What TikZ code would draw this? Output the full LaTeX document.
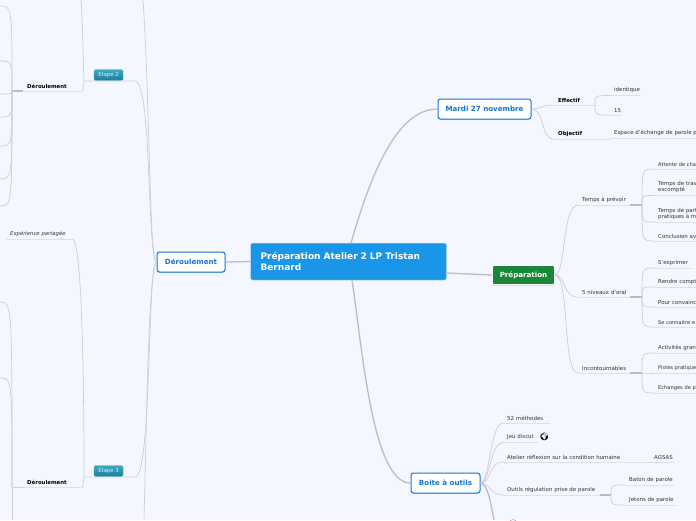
\documentclass[tikz,border=0pt]{standalone}
\usepackage{fontspec}
\setmainfont{DejaVu Sans}
\newfontfamily\emojifont{Noto Emoji}
\usetikzlibrary{arrows.meta,positioning,calc,shadows}
\definecolor{pagebg}{RGB}{244,247,255}
\definecolor{mainblue}{RGB}{26,150,232}
\definecolor{linkblue}{RGB}{20,115,215}
\definecolor{prepgreen}{RGB}{26,135,55}
\definecolor{etapetop}{RGB}{62,170,195}
\definecolor{etapebot}{RGB}{24,125,155}
\definecolor{branchgray}{RGB}{205,206,210}
\definecolor{mainlink}{RGB}{190,190,194}
\definecolor{stubgray}{RGB}{186,188,192}
\definecolor{leafline}{RGB}{222,225,234}
\definecolor{leaftext}{RGB}{50,50,50}
\tikzset{
  mainnode/.style={rectangle,rounded corners=1.5pt,fill=mainblue,draw=white!70!mainblue,line width=0.5pt,text=white,
    font=\fontsize{9}{11}\selectfont\bfseries,align=left,text width=176pt,inner xsep=10pt,inner ysep=0pt,minimum width=195pt,minimum height=37pt},
  topicnode/.style={rectangle,rounded corners=2.5pt,fill=white,draw=linkblue,line width=1pt,text=linkblue,
    font=\fontsize{7.1}{8}\selectfont\bfseries,inner sep=0pt,minimum height=20pt,
    drop shadow={shadow xshift=0pt,shadow yshift=-0.8pt,opacity=0.3,fill=linkblue}},
  prepnode/.style={rectangle,rounded corners=1.5pt,fill=prepgreen,draw=white,line width=0.6pt,text=white,
    font=\fontsize{7.1}{8}\selectfont\bfseries,inner sep=0pt,minimum width=62pt,minimum height=19pt,
    drop shadow={shadow xshift=0pt,shadow yshift=-1pt,opacity=0.35,fill=gray}},
  etapenode/.style={rectangle,rounded corners=1.5pt,top color=etapetop,bottom color=etapebot,draw=etapetop,line width=0.3pt,
    text=white!85!etapetop,font=\fontsize{5.3}{6}\selectfont,inner sep=0pt,minimum width=29pt,minimum height=11pt},
  leafnode/.style={anchor=south west,inner xsep=4pt,inner ysep=2.6pt,text width=#1pt-8pt,align=left,text=leaftext,
    font=\fontsize{5.45}{6}\selectfont},
  edgeleaf/.style={leafnode=#1,font=\fontsize{5.1}{6}\selectfont},
  boldleaf/.style={leafnode=#1,text=black,font=\fontsize{5.4}{6}\selectfont\bfseries},
  menunode/.style={text=white,font=\fontsize{6.5}{7}\selectfont,inner sep=0pt},
  branch/.style={draw=branchgray,line width=0.7pt},
  thickbranch/.style={draw=mainlink,line width=1.3pt},
  leafrule/.style={draw=leafline,line width=0.9pt},
  stub/.style={draw=stubgray,line width=1.1pt}
}
\begin{document}
\begin{tikzpicture}[x=1pt,y=-1pt]
  \useasboundingbox[fill=pagebg] (0,0) rectangle (696,520);

  % free ends at the edges of the sheet
  \coordinate (topA) at (143,0);
  \coordinate (topB) at (81,0);
  \coordinate (botA) at (144,520);
  \coordinate (botB) at (12,520);
  \coordinate (botC) at (494,520);
  \coordinate (hubUp) at (12,91);
  \coordinate (hubLow) at (12,487);
  \coordinate (hubTemps) at (642,205);
  \coordinate (hubNiv) at (642,297);
  \coordinate (hubInc) at (642,373);
  \coordinate (hubOutils) at (611,495);
  \coordinate (hubEff) at (595,105);
  \foreach \y [count=\i] in {6,61,94,117,146,179,206} \coordinate (edgeU\i) at (0,\y);
  \foreach \y [count=\i] in {302,378} \coordinate (edgeL\i) at (0,\y);

  \node[mainnode] (central) at (348.5,261.5) {Préparation Atelier 2 LP Tristan Bernard};
  \node[topicnode,minimum width=68pt] (deroul) at (191,262) {Déroulement};
  \node[topicnode,minimum width=93pt] (mardi) at (484.5,109) {Mardi 27 novembre};
  \node[prepnode] (prep) at (523.5,275) {Préparation};
  \node[topicnode,minimum width=69pt] (boite) at (445.5,483) {Boite à outils};

  \node[etapenode] (etapeB) at (108.5,75) {Etape 2};
  \node[etapenode] (etapeC) at (108.5,471) {Etape 3};
  \node[menunode,right=1pt of etapeB] (menuB) {≡};
  \node[menunode,right=1pt of etapeC] (menuC) {≡};

  % left side
  \node[boldleaf=60] (deroulB) at (23,91) {Déroulement};
  \node[boldleaf=60] (deroulC) at (23,487) {Déroulement};
  \node[leafnode=66,font=\fontsize{5.3}{6}\selectfont\itshape] (partage) at (6,239) {Expérience partagée};

  % right side, Mardi
  \node[boldleaf=41] (effectif) at (554,105) {Effectif};
  \node[leafnode=31] (identique) at (610,95.5) {identique};
  \node[leafnode=12] (quinze) at (610,115) {15};
  \node[boldleaf=56] (objectif) at (554,139) {Objectif};
  \node[leafnode=120] (espace) at (610,138.5) {Espace d'échange de parole p};

  % right side, Preparation
  \node[leafnode=52] (temps) at (578,205) {\mbox{Temps à prévoir}};
  \node[leafnode=52] (niveaux) at (578,297) {\mbox{5 niveaux d'oral}};
  \node[leafnode=52] (incont) at (578,373) {\mbox{Incontournables}};
  \node[edgeleaf=60] (attente) at (654,169) {Attente de cha};
  \node[leafnode=60] (travail) at (654,195.5) {Temps de trav\\escompté};
  \node[leafnode=60] (partie) at (654,222) {Temps de part\\pratiques à m};
  \node[leafnode=60] (conclu) at (654,241) {Conclusion av};
  \node[leafnode=38] (exprimer) at (654,268) {S'exprimer};
  \node[leafnode=60] (rendre) at (654,287) {Rendre compt};
  \node[leafnode=60] (convain) at (654,307) {Pour convainc};
  \node[edgeleaf=60] (connaitre) at (654,327) {Se connaitre e};
  \node[leafnode=60] (activ) at (654,353) {Activités gran};
  \node[edgeleaf=60] (pistes) at (654,373) {Pistes pratique};
  \node[edgeleaf=60] (echange) at (654,393) {Echanges de p};

  % right side, Boite
  \node[leafnode=47] (methodes) at (503,423) {\mbox{52 méthodes}};
  \node[leafnode=36] (jeu) at (503,442.5) {\mbox{Jeu discut}};
  \node[inner sep=0pt,font=\emojifont\fontsize{7.5}{8}\selectfont,right=0pt of jeu.east,yshift=0.5pt] (globe) {\char"1F30D};
  \node[leafnode=147] (atelier) at (503,462) {\mbox{Atelier réflexion sur la condition humaine}};
  \node[leafnode=25] (agsas) at (650,462) {\mbox{AGSAS}};
  \node[leafnode=97] (outils) at (503,495) {\mbox{Outils régulation prise de parole}};
  \node[leafnode=50] (baton) at (625,485) {\mbox{Baton de parole}};
  \node[leafnode=52] (jetons) at (625,505) {\mbox{Jetons de parole}};
  \node[circle,draw=gray!40!pink,line width=0.6pt,inner sep=0pt,minimum size=8pt] (rond) at (513,523.5) {};

  % rules under the leaves
  \foreach \n in {deroulB,deroulC,partage,effectif,identique,quinze,objectif,espace,temps,niveaux,incont,attente,travail,partie,conclu,exprimer,rendre,convain,connaitre,activ,pistes,echange,methodes,jeu,atelier,agsas,outils,baton,jetons}
    \draw[leafrule] (\n.south west) -- (\n.south east);

  % main links
  \draw[thickbranch] (central.west) -- (deroul.east);
  \draw[thickbranch] (central.east |- 0,273) -- (prep.west);
  \draw[thickbranch] (351,243) .. controls (372,170) and (398,109) .. (mardi.west);
  \draw[thickbranch] (352,280) .. controls (362,345) and (372,483) .. (boite.west);

  % Deroulement to steps
  \draw[branch] (deroul.west) .. controls (147,258) and (152,81) .. (135,81) -- (84,81);
  \draw[branch] (deroul.west) .. controls (149,258) and (150,100) .. (topA);
  \draw[branch] (deroul.west) .. controls (147,266) and (152,477) .. (135,477) -- (84,477);
  \draw[branch] (deroul.west) .. controls (149,266) and (147,400) .. (botA);

  % steps to their children
  \draw[branch] (84,81) .. controls (83,90) and (82,91) .. (deroulB.south east);
  \draw[branch] (84,81) .. controls (83,60) and (83,30) .. (topB);
  \draw[branch] (84,477) .. controls (83,486) and (82,487) .. (deroulC.south east);
  \draw[branch] (84,477) .. controls (84,380) and (82,240) .. (partage.south east);
  \draw[stub] (hubUp) -- (deroulB.south west);
  \draw[branch] (hubLow) -- (deroulC.south west);

  % far left branches
  \foreach \i in {1,2,3,4,5,6,7}
    \draw[branch] (hubUp) .. controls (hubUp |- edgeU\i) .. (edgeU\i);
  \foreach \i in {1,2}
    \draw[branch] (hubLow) .. controls (hubLow |- edgeL\i) .. (edgeL\i);
  \draw[branch] (hubLow) -- (botB);

  % Mardi
  \draw[branch] (mardi.east) .. controls (541,109) and (541,105) .. (effectif.south west);
  \draw[branch] (mardi.east) .. controls (545,109) and (540,139) .. (objectif.south west);
  \draw[branch] (effectif.south east) -- (hubEff);
  \draw[branch] (objectif.south east) -- (espace.south west);
  \foreach \n in {identique,quinze}
    \draw[branch] (hubEff) .. controls (hubEff |- \n.south west) .. (\n.south west);

  % Preparation
  \draw[branch] (prep.east) .. controls (566,275) and (562,205) .. (temps.south west);
  \draw[branch] (prep.east) .. controls (566,275) and (562,297) .. (niveaux.south west);
  \draw[branch] (prep.east) .. controls (570,275) and (562,373) .. (incont.south west);
  \draw[stub] (temps.south east) -- (hubTemps);
  \draw[stub] (niveaux.south east) -- (hubNiv);
  \draw[stub] (incont.south east) -- (hubInc);
  \foreach \n in {attente,travail,partie,conclu}
    \draw[branch] (hubTemps) .. controls (hubTemps |- \n.south west) .. (\n.south west);
  \foreach \n in {exprimer,rendre,convain,connaitre}
    \draw[branch] (hubNiv) .. controls (hubNiv |- \n.south west) .. (\n.south west);
  \foreach \n in {activ,pistes,echange}
    \draw[branch] (hubInc) .. controls (hubInc |- \n.south west) .. (\n.south west);

  % Boite
  \draw[branch] (boite.east) .. controls (490,483) and (490,423) .. (methodes.south west);
  \draw[branch] (boite.east) .. controls (490,483) and (490,442.5) .. (jeu.south west);
  \draw[branch] (boite.east) .. controls (492,483) and (488,462) .. (atelier.south west);
  \draw[branch] (boite.east) .. controls (490,483) and (490,495) .. (outils.south west);
  \draw[thickbranch] (boite.east) .. controls (488,485) and (490,500) .. (botC);
  \draw[branch] (atelier.south east) -- (agsas.south west);
  \draw[stub] (outils.south east) -- (hubOutils);
  \foreach \n in {baton,jetons}
    \draw[branch] (hubOutils) .. controls (hubOutils |- \n.south west) .. (\n.south west);
\end{tikzpicture}
\end{document}
